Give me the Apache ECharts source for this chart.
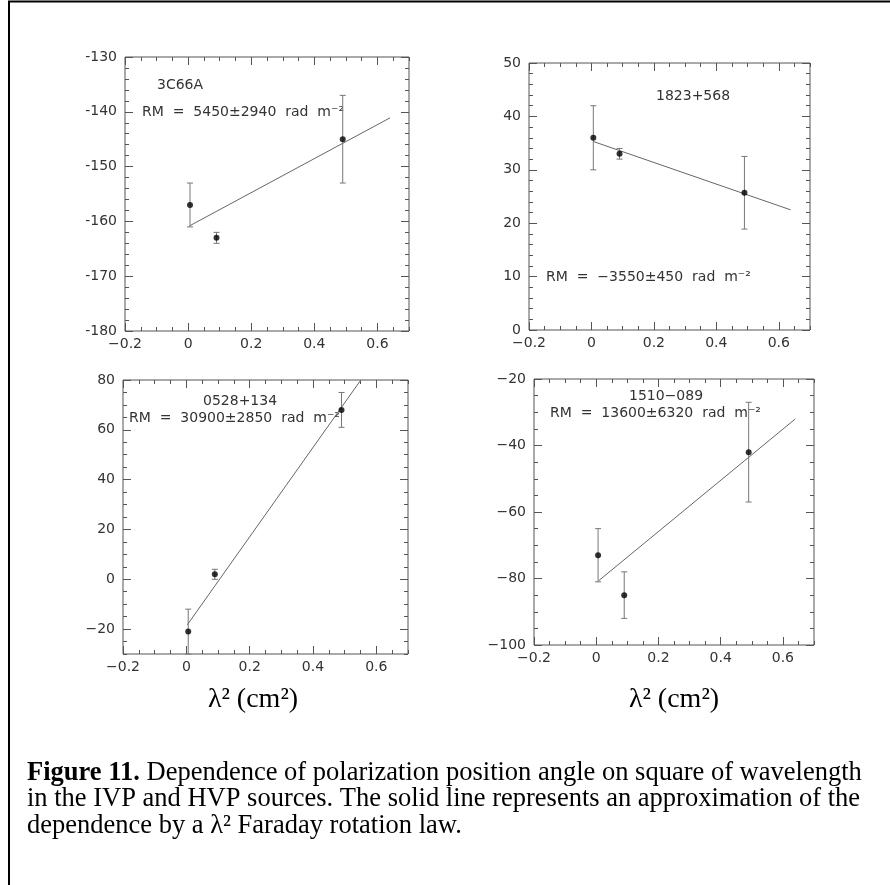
<!DOCTYPE html>
<html>
<head>
<meta charset="utf-8">
<script src="https://cdn.jsdelivr.net/npm/echarts@6/dist/echarts.min.js"></script>
<style>
html, body { margin: 0; padding: 0; background: #fff; }
#main { width: 890px; height: 885px; }
</style>
</head>
<body>
<div id="main"></div>
<script>
// lambda^2 of the three bands, cm^2
var lam2 = [0.006, 0.09, 0.49]

var srcNames = ['3C66A', '1823+568', '0528+134', '1510−089']
var rmLabels = [
  'RM  =  5450±2940  rad  m⁻²',
  'RM  =  −3550±450  rad  m⁻²',
  'RM  =  30900±2850  rad  m⁻²',
  'RM  =  13600±6320  rad  m⁻²'
]

// position angle (deg) and errors
var pa3C66A = [-157, -163, -145]
var err3C66A = [4, 1, 8]
var pa1823 = [36, 33, 25.7]
var err1823 = [6, 1, 6.8]
var pa0528 = [-21, 2, 68]
var err0528 = [9, 2, 7]
var pa1510 = [-73, -85, -42]
var err1510 = [8, 7, 15]

// fitted lines (end points)
var fitX3C66A = [0.005, 0.64]
var fitY3C66A = [-160.8, -141.1]
var fitX1823 = [0.006, 0.638]
var fitY1823 = [35.3, 22.5]
var fitX0528 = [0.003, 0.551]
var fitY0528 = [-18.3, 80]
var fitX1510 = [0.0075, 0.64]
var fitY1510 = [-80.7, -32]

// axes
var xRange = [-0.2, 0.7]
var xTicks = [-0.2, 0, 0.2, 0.4, 0.6]
var yRange3C66A = [-180, -130]
var yTicks3C66A = [-180, -170, -160, -150, -140, -130]
var yRange1823 = [0, 50]
var yTicks1823 = [0, 10, 20, 30, 40, 50]
var yRange0528 = [-30, 80]
var yTicks0528 = [-20, 0, 20, 40, 60, 80]
var yRange1510 = [-100, -20]
var yTicks1510 = [-100, -80, -60, -40, -20]
var yMinorStep = [2, 2, 5, 5]

var pas = [pa3C66A, pa1823, pa0528, pa1510]
var errs = [err3C66A, err1823, err0528, err1510]
var fitXs = [fitX3C66A, fitX1823, fitX0528, fitX1510]
var fitYs = [fitY3C66A, fitY1823, fitY0528, fitY1510]
var yRanges = [yRange3C66A, yRange1823, yRange0528, yRange1510]
var yTickList = [yTicks3C66A, yTicks1823, yTicks0528, yTicks1510]

var grids = [
  { left: 125, top: 57, width: 284, height: 274 },
  { left: 529, top: 63, width: 281, height: 267 },
  { left: 123, top: 380, width: 285, height: 274 },
  { left: 534, top: 379, width: 280, height: 266 }
]
var yMinus = ['-', '−', '−', '−']

var frameColor = '#555'
var textColor = '#333'
var tickFont = 'DejaVu Sans'

function stepVals(min, max, step) {
  var out = []
  var n = Math.round((max - min) / step)
  for (var i = 0; i <= n; i++) {
    out.push(+(min + i * step).toFixed(4))
  }
  return out
}

function mkAxis(gi, pos, range, ticks, len, fmt) {
  return {
    type: 'value',
    gridIndex: gi,
    position: pos,
    min: range[0],
    max: range[1],
    axisLine: { show: false, onZero: false },
    splitLine: { show: false },
    axisTick: {
      show: true,
      inside: true,
      length: len,
      customValues: ticks,
      lineStyle: { color: frameColor, width: 1 }
    },
    axisLabel: {
      show: !!fmt,
      customValues: ticks,
      formatter: fmt,
      margin: (pos === 'left') ? 8 : 6,
      color: textColor,
      fontSize: 14,
      fontFamily: tickFont
    }
  }
}

function xFmt(v) {
  if (v === 0) return '0'
  return (v < 0 ? '−' : '') + Math.abs(v).toFixed(1)
}

function renderErr(params, api) {
  var x = api.value(0)
  var y = api.value(1)
  var e = api.value(2)
  var top = api.coord([x, y + e])
  var bot = api.coord([x, y - e])
  var cs = params.coordSys
  var t = Math.max(top[1], cs.y)
  var b = Math.min(bot[1], cs.y + cs.height)
  var style = { stroke: '#777', lineWidth: 1 }
  var children = [{
    type: 'line',
    shape: { x1: top[0], y1: t, x2: bot[0], y2: b },
    style: style
  }]
  if (top[1] >= cs.y) {
    children.push({ type: 'line', shape: { x1: top[0] - 3, y1: top[1], x2: top[0] + 3, y2: top[1] }, style: style })
  }
  if (bot[1] <= cs.y + cs.height) {
    children.push({ type: 'line', shape: { x1: bot[0] - 3, y1: bot[1], x2: bot[0] + 3, y2: bot[1] }, style: style })
  }
  return { type: 'group', children: children }
}

var gridOpt = []
var xAxes = []
var yAxes = []
var series = []
var graphics = [{
  type: 'rect',
  shape: { x: 9, y: 1.5, width: 1000, height: 1000 },
  style: { fill: null, stroke: '#000', lineWidth: 2 },
  silent: true
}]

for (let i = 0; i < 4; i++) {
  let g = grids[i]
  gridOpt.push({
    left: g.left, top: g.top, width: g.width, height: g.height,
    show: true, borderColor: frameColor, borderWidth: 1,
    backgroundColor: 'transparent',
    outerBoundsMode: 'none'
  })
  let xMinor = stepVals(xRange[0], xRange[1], 0.05)
  let yMinor = stepVals(yRanges[i][0], yRanges[i][1], yMinorStep[i])
  let minus = yMinus[i]
  let yFmt = function (v) { return (v < 0 ? minus : '') + Math.abs(v) }

  xAxes.push(mkAxis(i, 'bottom', xRange, xTicks, 8, xFmt))
  xAxes.push(mkAxis(i, 'bottom', xRange, xMinor, 4, null))
  xAxes.push(mkAxis(i, 'top', xRange, xTicks, 8, null))
  xAxes.push(mkAxis(i, 'top', xRange, xMinor, 4, null))
  yAxes.push(mkAxis(i, 'left', yRanges[i], yTickList[i], 8, yFmt))
  yAxes.push(mkAxis(i, 'left', yRanges[i], yMinor, 4, null))
  yAxes.push(mkAxis(i, 'right', yRanges[i], yTickList[i], 8, null))
  yAxes.push(mkAxis(i, 'right', yRanges[i], yMinor, 4, null))

  let errData = []
  let ptData = []
  for (let k = 0; k < lam2.length; k++) {
    errData.push([lam2[k], pas[i][k], errs[i][k]])
    ptData.push([lam2[k], pas[i][k]])
  }
  series.push({
    type: 'line',
    xAxisIndex: 4 * i,
    yAxisIndex: 4 * i,
    data: [[fitXs[i][0], fitYs[i][0]], [fitXs[i][1], fitYs[i][1]]],
    showSymbol: false,
    symbol: 'none',
    lineStyle: { color: '#666', width: 1 },
    clip: true,
    z: 1
  })
  series.push({
    type: 'custom',
    xAxisIndex: 4 * i,
    yAxisIndex: 4 * i,
    data: errData,
    encode: { x: 0, y: 1 },
    renderItem: renderErr,
    z: 2
  })
  series.push({
    type: 'scatter',
    xAxisIndex: 4 * i,
    yAxisIndex: 4 * i,
    data: ptData,
    symbol: 'circle',
    symbolSize: 6,
    itemStyle: { color: '#000' },
    z: 3
  })
}

// panel annotations
var namePos = [[157, 85], [656, 96], [203, 401], [629, 396]]
var rmPos = [[142, 112], [546, 277], [129, 418], [550, 413]]
for (let i = 0; i < 4; i++) {
  graphics.push({
    type: 'text', x: namePos[i][0], y: namePos[i][1], silent: true,
    style: { text: srcNames[i], fill: textColor, fontSize: 14, fontFamily: tickFont, verticalAlign: 'middle' }
  })
  graphics.push({
    type: 'text', x: rmPos[i][0], y: rmPos[i][1], silent: true,
    style: { text: rmLabels[i], fill: textColor, fontSize: 14, fontFamily: tickFont, verticalAlign: 'middle' }
  })
}

// x axis titles
var serif = '"Liberation Serif", "Times New Roman", serif'
;[253, 674].forEach(function (cx) {
  graphics.push({
    type: 'text', x: cx, y: 700, silent: true,
    style: { text: 'λ² (cm²)', fill: '#000', fontSize: 28, fontFamily: serif, align: 'center', verticalAlign: 'middle' }
  })
})

// caption
var capLines = [
  '{b|Figure 11.} Dependence of polarization position angle on square of wavelength',
  'in the IVP and HVP sources. The solid line represents an approximation of the',
  'dependence by a λ² Faraday rotation law.'
]
capLines.forEach(function (t, k) {
  graphics.push({
    type: 'text', x: 27, y: 773 + k * 26.5, silent: true,
    style: {
      text: t, fill: '#000', fontSize: 26.5, fontFamily: serif, verticalAlign: 'middle',
      rich: { b: { fontWeight: 'bold', fontSize: 26.5, fontFamily: serif, fill: '#000' } }
    }
  })
})

var chart = echarts.init(document.getElementById('main'), null, { renderer: 'canvas' })
var option = {
  animation: false,
  backgroundColor: '#fff',
  grid: gridOpt,
  xAxis: xAxes,
  yAxis: yAxes,
  series: series,
  graphic: graphics
}
chart.setOption(option)
</script>
</body>
</html>
